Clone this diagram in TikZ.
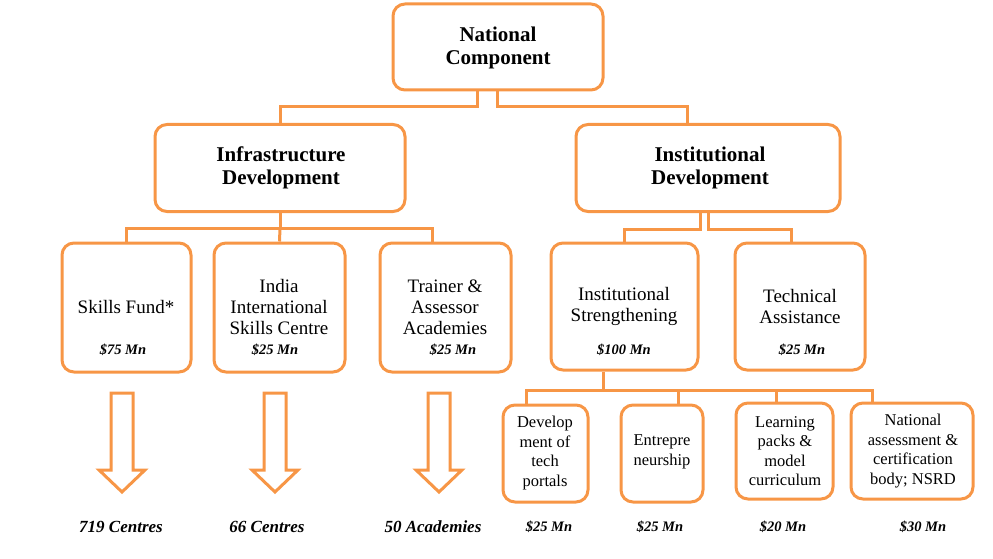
\documentclass[tikz,border=0pt]{standalone}
\usepackage{fontspec}
\setmainfont{Liberation Serif}
\usetikzlibrary{calc}
\definecolor{orng}{RGB}{247,150,70}
\tikzset{
  box/.style={draw=orng, line width=3pt, rounded corners=12pt, inner sep=0pt, fill=white},
  conn/.style={draw=orng, line width=3pt},
  blockarrow/.style={draw=orng, line width=3pt, fill=white, line join=miter},
  headtxt/.style={align=center, font=\fontsize{21}{23}\selectfont\bfseries, inner sep=0pt},
  midtxt/.style={align=center, font=\fontsize{19}{21}\selectfont, inner sep=0pt},
  smalltxt/.style={align=center, font=\fontsize{16.5}{19.5}\selectfont, inner sep=0pt},
  money/.style={font=\fontsize{14.5}{16}\selectfont\bfseries\itshape, inner sep=0pt},
  outcome/.style={font=\fontsize{17}{19}\selectfont\bfseries\itshape, inner sep=0pt}
}
\begin{document}
\begin{tikzpicture}[x=1pt, y=-1pt]
\useasboundingbox (0,0) rectangle (993,559);

% boxes
\node[box, minimum width=210pt, minimum height=86pt] (nat) at (498,47) {};
\node[box, minimum width=250pt, minimum height=87pt] (infra) at (280,168) {};
\node[box, minimum width=264pt, minimum height=87pt] (inst) at (708,168) {};
\node[box, minimum width=129pt, minimum height=129pt] (skills) at (126.5,307.5) {};
\node[box, minimum width=131pt, minimum height=129pt] (india) at (279.5,307.5) {};
\node[box, minimum width=131pt, minimum height=129pt] (trainer) at (445.5,307.5) {};
\node[box, minimum width=147pt, minimum height=127pt] (istr) at (624.5,306.5) {};
\node[box, minimum width=130pt, minimum height=127pt] (tech) at (800,306.5) {};
\node[box, minimum width=85pt, minimum height=97pt] (dev) at (545.5,453.5) {};
\node[box, minimum width=82pt, minimum height=97pt] (ent) at (662,453.5) {};
\node[box, minimum width=97pt, minimum height=96pt] (lpk) at (784.5,451) {};
\node[box, minimum width=122pt, minimum height=96pt] (nab) at (912,451) {};

% connectors level 1 -> 2
\draw[conn] ([xshift=-21pt]nat.south) -- ++(0,15) -| (infra.north);
\draw[conn] ([xshift=-1pt]nat.south) -- ++(0,15) -| ([xshift=-21pt]inst.north);

% infra -> level 3
\coordinate (ih) at ($(infra.south)+(0,15)$);
\draw[conn] (infra.south) -- (ih);
\draw[conn] (skills.north) |- (ih) -| ([xshift=-13pt]trainer.north);
\draw[conn] (ih) -- (india.north);

% inst -> level 3
\draw[conn] ([xshift=-8pt]inst.south) -- ++(0,16) -| (istr.north);
\draw[conn] (inst.south) -- ++(0,16) -| ([xshift=-9pt]tech.north);

% istr -> level 4
\coordinate (sh) at ($(istr.south)+(-21,19)$);
\draw[conn] ([xshift=-21pt]istr.south) -- (sh);
\draw[conn] ([xshift=-19pt]dev.north) |- (sh) -| ([xshift=-40pt]nab.north);
\draw[conn] (sh) -| ([xshift=16pt]ent.north);
\draw[conn] (sh) -| ([xshift=-8pt]lpk.north);

% texts
\node[headtxt] (natT) at (498,48) {National\\Component};
\node[headtxt] (infraT) at (281,168) {Infrastructure\\Development};
\node[headtxt] (instT) at (710,168) {Institutional\\Development};

\node[midtxt] (skillsT) at (126,307) {Skills Fund*};
\node[midtxt] (indiaT) at (279,307) {India\\International\\Skills Centre};
\node[midtxt] (trainerT) at (445,307) {Trainer \&\\Assessor\\Academies};
\node[midtxt] (istrT) at (624,306) {Institutional\\Strengthening};
\node[midtxt] (techT) at (800,306) {Technical\\Assistance};

\node[money] (m1) at (123,350) {\$75 Mn};
\node[money] (m2) at (275,350) {\$25 Mn};
\node[money] (m3) at (453,350) {\$25 Mn};
\node[money] (m4) at (624,350) {\$100 Mn};
\node[money] (m5) at (802,350) {\$25 Mn};

\node[smalltxt] (devT) at (545,453) {Develop\\ment of\\tech\\portals};
\node[smalltxt] (entT) at (662,452) {Entrepre\\neurship};
\node[smalltxt] (lpkT) at (785,451) {Learning\\packs \&\\model\\curriculum};
\node[smalltxt] (nabT) at (913,451) {National\\assessment \&\\certification\\body; NSRD};

\node[money] (m6) at (549,527) {\$25 Mn};
\node[money] (m7) at (660,527) {\$25 Mn};
\node[money] (m8) at (783,527) {\$20 Mn};
\node[money] (m9) at (923,527) {\$30 Mn};

% block arrows
\foreach \c/\n in {122/a1, 275/a2, 439/a3}{
  \coordinate (\n) at (\c,393);
  \draw[blockarrow] (\n) ++(-11,0) -- ++(22,0) -- ++(0,77) -- ++(12,0) -- ++(-23,22) -- ++(-23,-22) -- ++(12,0) -- cycle;
}

\node[outcome] (o1) at (121,527) {719 Centres};
\node[outcome] (o2) at (267,527) {66 Centres};
\node[outcome] (o3) at (433,527) {50 Academies};
\end{tikzpicture}
\end{document}
